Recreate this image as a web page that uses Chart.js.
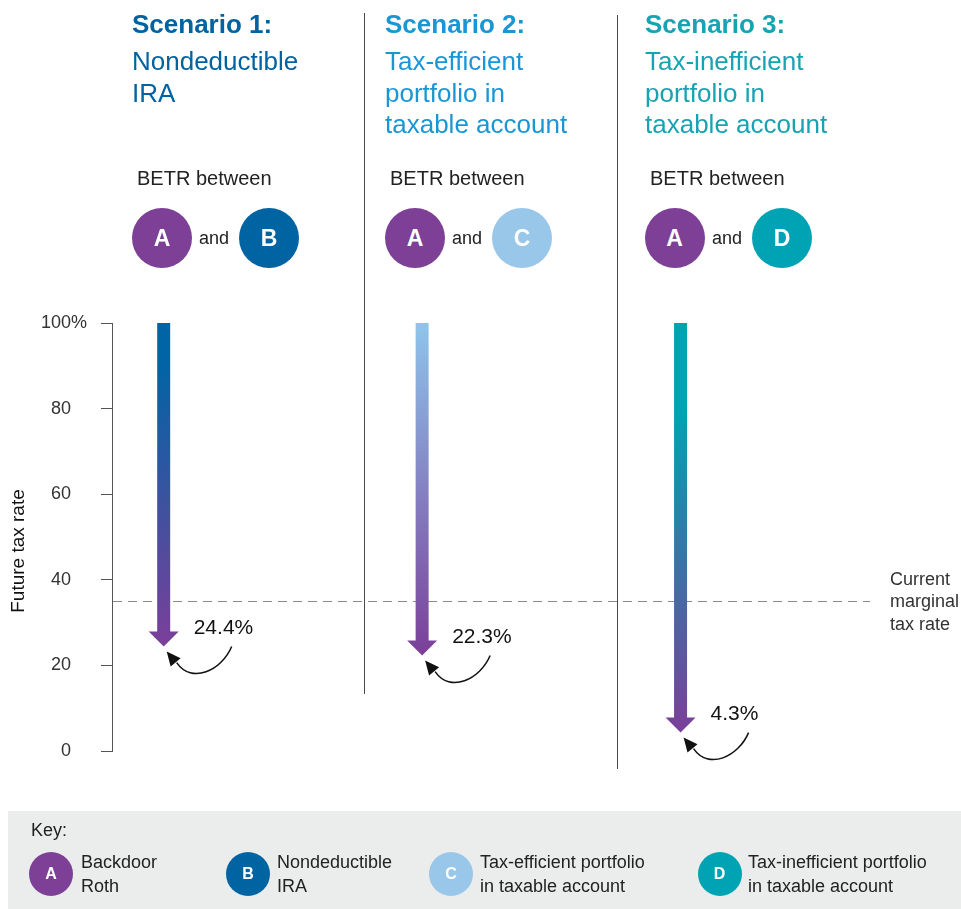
<!DOCTYPE html>
<html><head><meta charset="utf-8">
<script src="https://cdn.jsdelivr.net/npm/chart.js@4.4.1/dist/chart.umd.min.js"></script>
<style>
html,body{margin:0;padding:0;background:#fff;}
body{width:961px;height:909px;position:relative;overflow:hidden;font-family:"Liberation Sans",Arial,sans-serif;}
#c{position:absolute;left:0;top:0;}
.abs{position:absolute;white-space:nowrap;}
.circle{position:absolute;border-radius:50%;color:#fff;font-weight:bold;display:flex;align-items:center;justify-content:center;}
.sep{position:absolute;width:1px;background:#4a4a4a;}
</style></head><body>
<div style="position:absolute;left:8px;top:811px;width:953px;height:98px;background:#ebeded"></div>
<canvas id="c" width="961" height="909"></canvas>
<div id="overlay"></div>
<script>
// ---- data ----
const categories = ['Scenario 1', 'Scenario 2', 'Scenario 3'];
const subtitleLines = [
  ['Nondeductible', 'IRA'],
  ['Tax-efficient', 'portfolio in', 'taxable account'],
  ['Tax-inefficient', 'portfolio in', 'taxable account']
];
const startRate = [100, 100, 100];
const betrValues = [24.4, 22.3, 4.3];
const currentMarginalRate = 35;
const yTickValues = [0, 20, 40, 60, 80, 100];
const yAxisTitle = 'Future tax rate';
const currentRateLabel = ['Current', 'marginal', 'tax rate'];
const pairLetters = [['A', 'B'], ['A', 'C'], ['A', 'D']];
const keyLetters = ['A', 'B', 'C', 'D'];
const keyLabels = [
  ['Backdoor', 'Roth'],
  ['Nondeductible', 'IRA'],
  ['Tax-efficient portfolio', 'in taxable account'],
  ['Tax-inefficient portfolio', 'in taxable account']
];

// ---- styles ----
const FONT = '"Liberation Sans", Arial, sans-serif';
const letterColors = {A: '#7d4096', B: '#0064a3', C: '#98c7ea', D: '#00a3b3'};
const titleColors = ['#00639f', '#1897d4', '#17a3b2'];
const arrowTopColors = ['#0064a5', '#8ec5eb', '#00a2b3'];
const arrowHold = [0.12, 0.0, 0.22];
const purple = '#7b3f99';

// ---- HTML header and key ----
const ov = document.getElementById('overlay');
function el(cls, style, text) {
  const d = document.createElement('div');
  d.className = cls;
  d.style.cssText = style;
  if (text !== undefined) d.textContent = text;
  ov.appendChild(d);
  return d;
}
const titleX = [132, 385, 645];
const betrX = [137, 390, 650];
const circ1X = [162, 415, 674.5];
const andX = [199, 452, 712];
const circ2X = [269, 522, 782];
categories.forEach((cat, i) => {
  el('abs', `left:${titleX[i]}px;top:8px;font:bold 26px/32px ${FONT};color:${titleColors[i]}`, cat + ':');
  subtitleLines[i].forEach((ln, j) => {
    el('abs', `left:${titleX[i]}px;top:${45 + j * 31.7}px;font:26px/32px ${FONT};color:${titleColors[i]}`, ln);
  });
  el('abs', `left:${betrX[i]}px;top:166px;font:20px/24px ${FONT};color:#222`, 'BETR between');
  const [a, b] = pairLetters[i];
  el('circle', `left:${circ1X[i] - 30}px;top:208px;width:60px;height:60px;background:${letterColors[a]};font:bold 23px ${FONT}`, a);
  el('abs', `left:${andX[i]}px;top:226px;font:18px/24px ${FONT};color:#222`, 'and');
  el('circle', `left:${circ2X[i] - 30}px;top:208px;width:60px;height:60px;background:${letterColors[b]};font:bold 23px ${FONT}`, b);
});
el('sep', 'left:364px;top:13px;height:681px');
el('sep', 'left:617px;top:15px;height:754px');

el('abs', `left:31px;top:819px;font:18px/22px ${FONT};color:#222`, 'Key:');
const keyCX = [51, 248, 451, 719.5];
const keyTX = [81, 277, 480, 748];
keyLetters.forEach((k, i) => {
  el('circle', `left:${keyCX[i] - 22}px;top:851.5px;width:44px;height:44px;background:${letterColors[k]};font:bold 16px ${FONT}`, k);
  keyLabels[i].forEach((ln, j) => {
    el('abs', `left:${keyTX[i]}px;top:${850 + j * 24}px;font:18px/24px ${FONT};color:#222`, ln);
  });
});

// ---- chart plugins ----
const annotPlugin = {
  id: 'annot',
  beforeDatasetsDraw(chart) {
    const {ctx, chartArea, scales: {y}} = chart;
    const py = Math.round(y.getPixelForValue(currentMarginalRate)) + 0.5;
    ctx.save();
    ctx.strokeStyle = '#8a8a8a';
    ctx.lineWidth = 1;
    ctx.setLineDash([9, 6]);
    ctx.beginPath();
    ctx.moveTo(chartArea.left + 1, py);
    ctx.lineTo(chartArea.right, py);
    ctx.stroke();
    ctx.setLineDash([]);
    ctx.fillStyle = '#333';
    ctx.font = `18px ${FONT}`;
    ctx.textAlign = 'left';
    ctx.textBaseline = 'alphabetic';
    currentRateLabel.forEach((ln, j) => ctx.fillText(ln, chartArea.right + 20, py - 17 + j * 22.5));
    ctx.restore();
  },
  afterDatasetsDraw(chart) {
    const {ctx} = chart;
    const meta = chart.getDatasetMeta(0);
    meta.data.forEach((bar, i) => {
      const top = Math.min(bar.y, bar.base), tip = Math.max(bar.y, bar.base);
      const x = bar.x, hw = bar.width / 2;
      const headH = 15, headW = 15;
      ctx.save();
      const g = ctx.createLinearGradient(0, top, 0, tip);
      g.addColorStop(0, arrowTopColors[i]);
      g.addColorStop(arrowHold[i], arrowTopColors[i]);
      g.addColorStop(1, purple);
      ctx.fillStyle = g;
      ctx.fillRect(x - hw, top, 2 * hw, tip - headH - top + 0.5);
      ctx.beginPath();
      ctx.moveTo(x - headW, tip - headH);
      ctx.lineTo(x + headW, tip - headH);
      ctx.lineTo(x, tip);
      ctx.closePath();
      ctx.fill();
      // value label
      ctx.fillStyle = '#111';
      ctx.font = `21px ${FONT}`;
      ctx.textAlign = 'left';
      ctx.textBaseline = 'middle';
      ctx.fillText(betrValues[i] + '%', x + 30, tip - 18);
      // curved pointer
      ctx.strokeStyle = '#111';
      ctx.lineWidth = 1.5;
      ctx.beginPath();
      ctx.moveTo(x + 68, tip);
      ctx.bezierCurveTo(x + 58, tip + 24, x + 28, tip + 38, x + 13, tip + 16);
      ctx.stroke();
      const tx = x + 3, ty = tip + 5;
      const dx = -0.64, dy = -0.77, nx = 0.77, ny = -0.64;
      const bx = tx - dx * 14, by = ty - dy * 14;
      ctx.fillStyle = '#111';
      ctx.beginPath();
      ctx.moveTo(tx, ty);
      ctx.lineTo(bx + nx * 6.5, by + ny * 6.5);
      ctx.lineTo(bx - nx * 6.5, by - ny * 6.5);
      ctx.closePath();
      ctx.fill();
      ctx.restore();
    });
  },
  afterDraw(chart) {
    const {ctx, scales: {y}} = chart;
    ctx.save();
    ctx.fillStyle = '#333';
    ctx.font = `18px ${FONT}`;
    ctx.textAlign = 'left';
    ctx.textBaseline = 'middle';
    const topTick = yTickValues[yTickValues.length - 1];
    ctx.fillText('%', y.right - 11 - 30, y.getPixelForValue(topTick));
    // y axis title
    ctx.fillStyle = '#111';
    ctx.font = `19px ${FONT}`;
    ctx.textAlign = 'center';
    ctx.translate(19, (y.top + y.bottom) / 2 + 14);
    ctx.rotate(-Math.PI / 2);
    ctx.fillText(yAxisTitle, 0, 0);
    ctx.restore();
  }
};

new Chart(document.getElementById('c'), {
  type: 'bar',
  data: {
    labels: categories,
    datasets: [{
      data: categories.map((c, i) => ({x: i, y: [betrValues[i], startRate[i]]})),
      backgroundColor: 'rgba(0,0,0,0)',
      borderWidth: 0,
      barThickness: 13
    }]
  },
  options: {
    responsive: false,
    animation: false,
    layout: {padding: {top: 323, bottom: 158, left: 0, right: 91}},
    plugins: {legend: {display: false}, tooltip: {enabled: false}},
    scales: {
      x: {type: 'linear', display: false, offset: false, grid: {offset: false}, min: -0.2, max: 2.733},
      y: {
        min: 0, max: 100,
        afterFit(scale) { scale.width = 112; },
        afterBuildTicks(scale) { scale.ticks = yTickValues.map(v => ({value: v})); },
        border: {display: true, color: '#555', width: 1},
        grid: {display: true, drawOnChartArea: false, drawTicks: true, tickLength: 11, color: '#555'},
        ticks: {padding: 30, color: '#333', font: {family: FONT, size: 18}, callback: v => String(v)}
      }
    }
  },
  plugins: [annotPlugin]
});
</script>
</body></html>
